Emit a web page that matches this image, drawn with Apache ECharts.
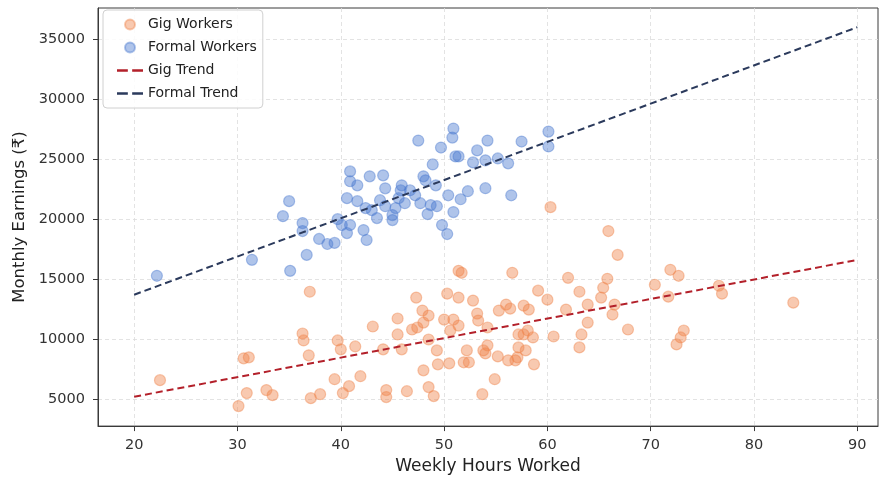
<!DOCTYPE html>
<html>
<head>
<meta charset="utf-8">
<script src="https://cdn.jsdelivr.net/npm/echarts@6/dist/echarts.min.js"></script>
<style>html,body{margin:0;padding:0;background:#fff}#c{width:880px;height:480px}</style>
</head>
<body>
<div id="c"></div>
<script>
const xTicks = [20, 30, 40, 50, 60, 70, 80, 90];
const yTicks = [5000, 10000, 15000, 20000, 25000, 30000, 35000];

const formalHours = [22.2,31.4,35.1,35.0,34.4,36.3,36.3,36.7,37.9,38.7,39.4,40.1,40.6,40.6,40.9,40.9,41.6,41.6,40.9,42.2,42.5,42.8,43.5,43.8,44.1,44.3,44.3,45.0,45.0,45.6,45.8,45.9,46.7,47.2,47.5,48.0,48.2,48.4,48.7,48.9,49.3,49.2,49.7,49.8,50.3,50.4,50.8,50.9,50.9,51.1,51.4,51.6,52.3,53.2,52.8,54.0,54.0,54.2,55.2,56.2,56.5,57.5,60.1,60.1,43.0,46.2,45.3,42.4,47.7,39.7];
const formalEarnings = [15280,16610,15690,21500,20250,19670,19010,17020,18350,17930,18020,19510,18840,21750,23980,23160,22820,21500,19510,19090,18260,23570,20090,21580,23650,22570,21080,20340,19920,21750,22410,22820,22410,21990,26550,23570,23240,20420,21170,24560,21080,22820,25970,19510,18760,21990,26800,27550,20590,25230,25230,21660,22330,25730,24730,24900,22580,26550,25060,24650,21990,26470,27300,26060,20750,21330,20920,20920,21330,20000];

const gigHours = [22.5,30.6,31.1,30.9,30.1,32.8,33.4,37.0,36.3,36.4,36.9,37.1,38.0,39.7,40.0,41.4,39.4,40.8,40.2,41.9,43.1,44.1,44.4,44.4,45.5,45.5,47.3,47.9,48.5,46.9,47.4,48.0,48.5,49.3,48.0,49.4,50.5,46.4,48.5,49.0,50.3,51.4,52.8,50.0,50.9,51.4,50.6,52.2,51.9,52.4,53.2,53.3,54.2,54.2,54.0,55.2,54.9,53.7,55.3,56.0,56.4,57.7,58.2,56.2,57.1,57.2,57.7,58.1,58.6,57.2,57.9,58.7,59.1,60.0,60.6,61.8,60.3,62.0,63.1,63.9,63.9,63.3,63.1,65.9,66.8,65.8,65.4,65.2,66.5,66.3,67.8,70.4,71.9,72.7,71.7,73.2,72.9,72.5,76.6,76.9,83.8,51.4,51.7,56.6,45.9,53.8,56.9];
const gigEarnings = [6580,8400,8480,5500,4420,5750,5330,13950,10470,9890,8650,5080,5410,9890,9150,9390,6660,6080,5500,6910,11050,9150,5750,5170,11720,10390,13460,12380,11960,10800,10970,11380,9970,9060,7400,7900,7980,5660,6000,5250,13790,13460,13210,11630,11630,11130,10720,9060,8070,8070,12130,11550,10970,9480,8810,8560,6660,5410,12380,12880,12540,12790,12460,8230,8480,10390,10390,10720,10140,9310,9060,7900,14040,13290,10220,12460,21000,15110,13950,12880,11380,10390,9310,19010,17020,15030,14280,13460,12880,12050,10800,14530,15780,15280,13540,10720,10140,9560,14450,13790,13040,15690,15530,15530,9150,9060,8230];

const trendHours = [20, 90];
const gigTrend = [5200, 16600];
const formalTrend = [13700, 36000];

const zip = (a, b) => a.map((v, i) => [v, b[i]]);
const FONT = 'DejaVu Sans';
const DASH_ICON = 'path://M0,0h10v2.4h-10z M14,0h10v2.4h-10z';

const chart = echarts.init(document.getElementById('c'), null, {renderer: 'canvas'});
chart.setOption({
  animation: false,
  backgroundColor: '#ffffff',
  textStyle: {fontFamily: FONT},
  grid: {left: 98, right: 2, top: 8, bottom: 52, show: true, borderColor: '#3a3a3a', borderWidth: 1, containLabel: false},
  legend: {
    left: 103, top: 10, orient: 'vertical',
    padding: [6, 6, 6, 14],
    itemGap: 6, itemWidth: 26, itemHeight: 10,
    backgroundColor: 'rgba(255,255,255,0.85)',
    borderColor: '#d0d0d0', borderWidth: 1, borderRadius: 4,
    textStyle: {fontFamily: FONT, fontSize: 14, lineHeight: 17, color: '#222'},
    data: [
      {name: 'Gig Workers', icon: 'circle'},
      {name: 'Formal Workers', icon: 'circle'},
      {name: 'Gig Trend', icon: DASH_ICON},
      {name: 'Formal Trend', icon: DASH_ICON}
    ]
  },
  xAxis: {
    type: 'value', min: 16.5, max: 92,
    name: 'Weekly Hours Worked', nameLocation: 'middle', nameGap: 30,
    nameTextStyle: {fontFamily: FONT, fontSize: 17, color: '#222'},
    axisLine: {show: true, lineStyle: {color: '#3a3a3a'}},
    axisTick: {show: true, length: 5, lineStyle: {color: '#3a3a3a'}, customValues: xTicks},
    axisLabel: {fontFamily: FONT, fontSize: 14.5, color: '#333', margin: 12, customValues: xTicks},
    splitLine: {show: true, lineStyle: {color: '#dcdcdc', width: 0.8, type: [4, 3]}}
  },
  yAxis: {
    type: 'value', min: 2750, max: 37600,
    name: 'Monthly Earnings (₹)', nameLocation: 'middle', nameGap: 68, nameRotate: 90,
    nameTextStyle: {fontFamily: FONT, fontSize: 16.5, color: '#222'},
    axisLine: {show: true, lineStyle: {color: '#3a3a3a'}},
    axisTick: {show: true, length: 5, lineStyle: {color: '#3a3a3a'}, customValues: yTicks},
    axisLabel: {fontFamily: FONT, fontSize: 14.5, color: '#333', margin: 13, customValues: yTicks,
      formatter: v => String(v)},
    splitLine: {show: true, lineStyle: {color: '#dcdcdc', width: 0.8, type: [4, 3]}}
  },
  series: [
    {
      name: 'Gig Workers', type: 'scatter', symbolSize: 11,
      data: zip(gigHours, gigEarnings),
      itemStyle: {color: 'rgba(238,133,74,0.55)', borderColor: 'rgba(238,133,74,0.55)', borderWidth: 1.2}
    },
    {
      name: 'Formal Workers', type: 'scatter', symbolSize: 11,
      data: zip(formalHours, formalEarnings),
      itemStyle: {color: 'rgba(72,120,208,0.55)', borderColor: 'rgba(72,120,208,0.55)', borderWidth: 1.2}
    },
    {
      name: 'Gig Trend', type: 'line', symbol: 'none', showSymbol: false,
      data: zip(trendHours, gigTrend),
      lineStyle: {color: '#b3202a', width: 2, type: [7, 4]},
      itemStyle: {color: '#b3202a'}
    },
    {
      name: 'Formal Trend', type: 'line', symbol: 'none', showSymbol: false,
      data: zip(trendHours, formalTrend),
      lineStyle: {color: '#2b3a5c', width: 2, type: [7, 4]},
      itemStyle: {color: '#2b3a5c'}
    }
  ]
});
</script>
</body>
</html>
